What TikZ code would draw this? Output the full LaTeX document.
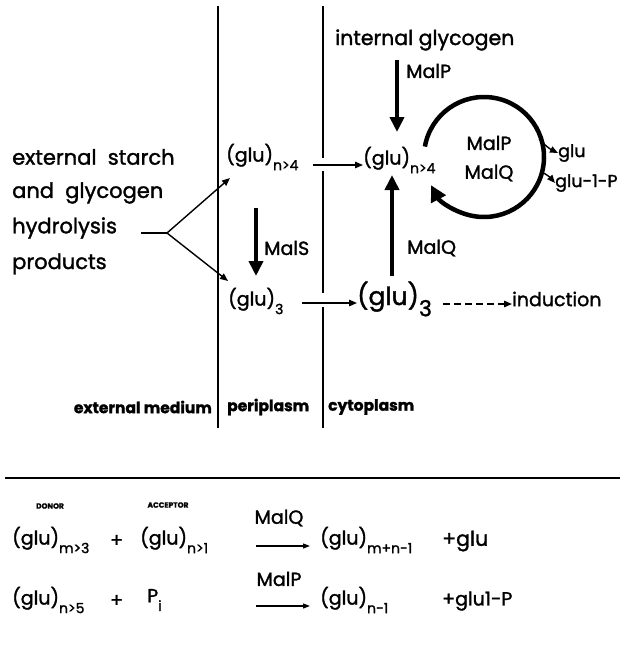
\documentclass[tikz,border=0pt]{standalone}
\usepackage{fontspec}
\setmainfont{Poppins}[FakeBold=1.5]
\usetikzlibrary{arrows.meta,calc}
\newcommand{\sbx}[1]{\raisebox{-0.45em}{\fontsize{14}{14}\selectfont #1}}
\newcommand{\sbbig}[1]{\raisebox{-0.45em}{\fontsize{22}{22}\selectfont #1}}
\begin{document}
\begin{tikzpicture}[x=1pt,y=-1pt,
  txt/.style={inner sep=0pt, anchor=west, font=\fontsize{19}{21}\selectfont},
  lefttxt/.style={inner sep=0pt, anchor=west, font=\fontsize{21}{23}\selectfont},
  bigtxt/.style={inner sep=0pt, anchor=west, font=\fontsize{25}{27}\selectfont},
  smtxt/.style={inner sep=0pt, anchor=west, font=\fontsize{17.5}{19}\selectfont},
  lbl/.style={inner sep=0pt, anchor=west, font=\fontsize{15.5}{17}\bfseries\selectfont},
  tiny/.style={inner sep=0pt, font=\fontsize{7.5}{8}\bfseries\selectfont},
  membrane/.style={line width=1.6pt},
  thick arrow/.style={line width=4.5pt, -{Triangle[length=15pt,width=14pt]}},
  thin arrow/.style={line width=1.4pt, -{Triangle[length=8pt,width=6.5pt]}},
]
\useasboundingbox (0,0) rectangle (623,648);

% membranes
\coordinate (m1t) at (218,6); \coordinate (m1b) at (218,428);
\draw[membrane] (m1t) -- (m1b);
\coordinate (m2t) at (323,6); \coordinate (m2a) at (323,158);
\coordinate (m2b) at (323,171); \coordinate (m2c) at (323,293);
\coordinate (m2d) at (323,307); \coordinate (m2e) at (323,428);
\draw[membrane] (m2t) -- (m2a) (m2b) -- (m2c) (m2d) -- (m2e);

% left text
\node[lefttxt] (t1) at (12,157) {external\ \ starch};
\node[lefttxt] (t2) at (12,193) {and\ \ glycogen};
\node[lefttxt] (t3) at (12,228) {hydrolysis};
\node[lefttxt] (t4) at (12,264) {products};
\coordinate (f0) at (141,233);
\coordinate (fk) at (167,233);

% periplasm
\node[txt] (pn) at (226,157) {(glu)\sbx{n>4}};
\node[txt] (p3) at (228,301) {(glu)\sbx{3}};
\draw[line width=1.4pt] (f0) -- (fk);
\draw[thin arrow] (fk) -- (230,178);
\draw[thin arrow] (fk) -- (228,281);

% cytoplasm
\node[txt, font=\fontsize{20.5}{22}\selectfont] (ig) at (335,40) {internal glycogen};
\node[txt] (cn) at (363,160) {(glu)\sbx{n>4}};
\node[bigtxt] (c3) at (357,299) {(glu)\sbbig{3}};
\node[txt] (ind) at (512,299) {induction};

\coordinate (mpa) at (397,60); \coordinate (mpb) at (397,132);
\draw[thick arrow] (mpa) -- (mpb);
\node[txt] (lmp) at (406,71) {MalP};

\coordinate (msa) at (256,208); \coordinate (msb) at (256,276);
\draw[thick arrow] (msa) -- (msb);
\node[txt] (lms) at (264,248) {MalS};

\coordinate (mqa) at (392,276); \coordinate (mqb) at (392,175);
\draw[thick arrow] (mqa) -- (mqb);
\node[txt] (lmq) at (407,248) {MalQ};

\coordinate (a1) at (313,165);
\draw[thin arrow] (a1) -- (cn.west |- a1);
\coordinate (a2) at (302,303);
\draw[thin arrow] (a2) -- (c3.west |- a2);
\coordinate (a3) at (443,304);
\draw[thin arrow, dash pattern=on 7pt off 4pt] (a3) -- (ind.west |- a3);

% cycle
\coordinate (cc) at (484,157);
\draw[line width=4.5pt, -{Triangle[length=16pt,width=16pt]}]
  ($(cc)+(-170:60)$) arc[start angle=-170, end angle=152, radius=60];
\node[txt, anchor=center] (cp) at (489,143) {MalP};
\node[txt, anchor=center] (cq) at (489,173) {MalQ};
\node[smtxt] (gl) at (558,153) {glu};
\node[smtxt] (g1p) at (555,183) {glu-1-P};
\coordinate (o1) at ($(cc)+(-18:58)$);
\coordinate (o2) at ($(cc)+(14:58)$);
\draw[thin arrow] (o1) to[bend right=10] (gl.west);
\draw[thin arrow] (o2) to[bend left=10] (g1p.west);

% compartment labels
\node[lbl, anchor=east] (em) at (212,407) {external medium};
\node[lbl] (pp) at (227,407) {periplasm};
\node[lbl] (cy) at (328,407) {cytoplasm};

% separator
\coordinate (h1) at (5,478); \coordinate (h2) at (620,478);
\draw[line width=1.2pt] (h1) -- (h2);

% equations
\node[tiny] (don) at (50,506) {DONOR};
\node[tiny] (acc) at (168,505) {ACCEPTOR};
\node[txt] (e1a) at (12,540) {(glu)\sbx{m>3}};
\node[txt] (e1p) at (110,541) {+};
\node[txt] (e1b) at (140,540) {(glu)\sbx{n>1}};
\node[txt, anchor=center] (e1e) at (279,518) {MalQ};
\coordinate (r1a) at (256,546); \coordinate (r1b) at (310,546);
\draw[line width=1.2pt, -{Triangle[length=7pt,width=5pt]}] (r1a) -- (r1b);
\node[txt] (e1c) at (320,540) {(glu)\sbx{m+n-1}};
\node[txt, font=\fontsize{20.5}{22}\selectfont] (e1d) at (442,541) {+glu};

\node[txt] (e2a) at (12,600) {(glu)\sbx{n>5}};
\node[txt] (e2p) at (110,601) {+};
\node[txt] (e2b) at (147,600) {P\sbx{i}};
\node[txt, anchor=center] (e2e) at (279,579) {MalP};
\coordinate (r2a) at (256,606); \coordinate (r2b) at (310,606);
\draw[line width=1.2pt, -{Triangle[length=7pt,width=5pt]}] (r2a) -- (r2b);
\node[txt] (e2c) at (320,600) {(glu)\sbx{n-1}};
\node[txt] (e2d) at (442,601) {+glu1-P};
\end{tikzpicture}
\end{document}
